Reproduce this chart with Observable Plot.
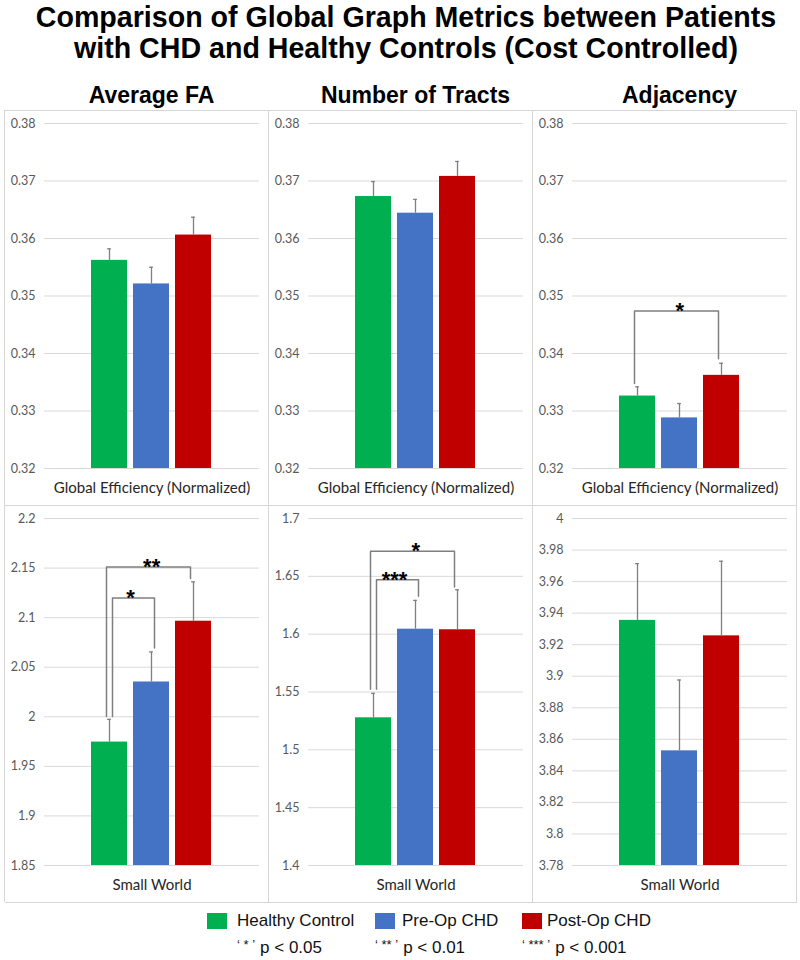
<!DOCTYPE html>
<html>
<head>
<meta charset="utf-8">
<script src="https://cdn.jsdelivr.net/npm/d3@7"></script>
<script src="https://cdn.jsdelivr.net/npm/@observablehq/plot@0.6"></script>
<style>
  body { margin: 0; background: #fff; }
  #page { position: relative; width: 800px; height: 960px; overflow: hidden; font-family: "Liberation Sans", Arial, sans-serif; color: #000; }
  .title { position: absolute; left: 10px; width: 792px; top: 2px; text-align: center; font-weight: bold; font-size: 28.6px; line-height: 31px; white-space: nowrap; }
  .hdr { position: absolute; top: 82px; width: 215px; text-align: center; font-weight: bold; font-size: 23px; line-height: 26px; white-space: nowrap; }
  .plot { position: absolute; }
  .line { position: absolute; background: #d6d6d6; }
  .sw { position: absolute; width: 20px; height: 16px; top: 913px; }
  .leg { position: absolute; top: 910px; font-size: 17px; line-height: 22px; color: #111; white-space: nowrap; }
  .pv { position: absolute; top: 937px; font-size: 17px; line-height: 22px; color: #111; white-space: nowrap; }
  .pv .sm { font-size: 13px; position: relative; top: -4px; word-spacing: 0px; margin-right: 5px; }
</style>
</head>
<body>
<div id="page"></div>
<script>
// ---------- data ----------
const groups = ["Healthy Control", "Pre-Op CHD", "Post-Op CHD"];
const groupColors = ["#00b050", "#4472c4", "#c00000"];
const metrics = ["Average FA", "Number of Tracts", "Adjacency"];
const measures = ["Global Efficiency (Normalized)", "Small World"];
const titleLines = ["Comparison of Global Graph Metrics between Patients", "with CHD and Healthy Controls (Cost Controlled)"];
const pLabels = [["‘ * ’", "p < 0.05"], ["‘ ** ’", "p < 0.01"], ["‘ *** ’", "p < 0.001"]];

// means and standard-error heights, order: Healthy Control, Pre-Op CHD, Post-Op CHD
const geFA = [0.3562, 0.3521, 0.3606];
const geFAErr = [0.0020, 0.0029, 0.0031];
const geTracts = [0.3673, 0.3644, 0.3708];
const geTractsErr = [0.0026, 0.0024, 0.0026];
const geAdj = [0.3326, 0.3288, 0.3362];
const geAdjErr = [0.0016, 0.0025, 0.0021];
const swFA = [1.9745, 2.0351, 2.0964];
const swFAErr = [0.0229, 0.0303, 0.0397];
const swTracts = [1.5277, 1.6043, 1.6038];
const swTractsErr = [0.0211, 0.0249, 0.0346];
const swAdj = [3.9354, 3.8527, 3.9256];
const swAdjErr = [0.0360, 0.0449, 0.0473];

// tick values
const geTicks = [0.32, 0.33, 0.34, 0.35, 0.36, 0.37, 0.38];
const swFATicks = [1.85, 1.9, 1.95, 2, 2.05, 2.1, 2.15, 2.2];
const swTractsTicks = [1.4, 1.45, 1.5, 1.55, 1.6, 1.65, 1.7];
const swAdjTicks = [3.78, 3.8, 3.82, 3.84, 3.86, 3.88, 3.9, 3.92, 3.94, 3.96, 3.98, 4];

// significance brackets
const geAdjBrackets = [
  {from: "Healthy Control", to: "Post-Op CHD", top: 0.3474, leftEnd: 0.3348, rightEnd: 0.3391, label: "*", nest: 0}
];
const swFABrackets = [
  {from: "Healthy Control", to: "Post-Op CHD", top: 2.1512, leftEnd: 2.0004, rightEnd: 2.1394, label: "**", nest: 0},
  {from: "Healthy Control", to: "Pre-Op CHD", top: 2.1199, leftEnd: 2.0004, rightEnd: 2.0693, label: "*", nest: 1}
];
const swTractsBrackets = [
  {from: "Healthy Control", to: "Post-Op CHD", top: 1.6717, leftEnd: 1.5524, rightEnd: 1.6407, label: "*", nest: 0},
  {from: "Healthy Control", to: "Pre-Op CHD", top: 1.6471, leftEnd: 1.5524, rightEnd: 1.6327, label: "***", nest: 1}
];

// ---------- layout ----------
const page = document.getElementById("page");
const PX = 5, PY = 110, PW = 264, PH = [395, 397];
const ML = 39, MR = 10, MT = 13, MB = 37;
const PAD_IN = 0.14, PAD_OUT = 1.12;

titleLines.forEach((t, i) => {
  const d = document.createElement("div");
  d.className = "title"; d.style.top = (2 + i * 31) + "px"; d.textContent = t;
  page.appendChild(d);
});
metrics.forEach((m, i) => {
  const d = document.createElement("div");
  d.className = "hdr"; d.style.left = (PX + i * PW + ML) + "px"; d.textContent = m;
  page.appendChild(d);
});

function panel(values, errs, ticks, label, brackets, height) {
  const width = PW;
  const data = groups.map((g, i) => ({group: g, value: values[i], hi: values[i] + errs[i], base: ticks[0]}));
  const step = (width - ML - MR) / (groups.length - PAD_IN + 2 * PAD_OUT);
  const bw = step * (1 - PAD_IN);
  const marks = [
    Plot.gridY(ticks, {stroke: "#d9d9d9", strokeOpacity: 1, strokeWidth: 1}),
    Plot.axisY(ticks, {tickSize: 0, tickPadding: 9, fill: "#595959", tickFormat: d => String(d), fontSize: 12.5}),
    Plot.barY(data, {x: "group", y1: "base", y2: "value", fill: "group"}),
    Plot.ruleX(data, {x: "group", y1: "value", y2: "hi", stroke: "#7f7f7f", strokeWidth: 1.3}),
    Plot.tickY(data, {x: "group", y: "hi", stroke: "#7f7f7f", strokeWidth: 1.3, insetLeft: (bw - 4) / 2, insetRight: (bw - 4) / 2}),
    Plot.text([label], {text: d => d, frameAnchor: "bottom", dy: 20, lineAnchor: "middle", fontSize: 15, fill: "#262626"})
  ];
  for (const b of brackets) {
    const pts = [
      {x: b.from, y: b.leftEnd}, {x: b.from, y: b.top},
      {x: b.to, y: b.top}, {x: b.to, y: b.rightEnd}
    ];
    marks.push(Plot.line(pts, {x: "x", y: "y", stroke: "#7f7f7f", strokeWidth: 1.5, dx: b.nest ? 3 : -3}));
    const span = groups.indexOf(b.to) - groups.indexOf(b.from);
    marks.push(Plot.text([b], {x: "from", y: "top", text: "label", dx: span * step / 2, lineAnchor: "middle",
      fontSize: 22, fontWeight: "bold", fill: "#000", fontFamily: "Liberation Sans, Arial, sans-serif"}));
  }
  return Plot.plot({
    width, height,
    marginLeft: ML, marginRight: MR, marginTop: MT, marginBottom: MB,
    style: {fontFamily: "Lato, sans-serif", fontSize: "12px", background: "transparent", overflow: "visible"},
    x: {domain: groups, paddingInner: PAD_IN, paddingOuter: PAD_OUT, axis: null},
    y: {domain: [ticks[0], ticks[ticks.length - 1]], axis: null},
    color: {domain: groups, range: groupColors},
    marks
  });
}

const specs = [
  [geFA, geFAErr, geTicks, measures[0], [], 0, 0],
  [geTracts, geTractsErr, geTicks, measures[0], [], 0, 1],
  [geAdj, geAdjErr, geTicks, measures[0], geAdjBrackets, 0, 2],
  [swFA, swFAErr, swFATicks, measures[1], swFABrackets, 1, 0],
  [swTracts, swTractsErr, swTractsTicks, measures[1], swTractsBrackets, 1, 1],
  [swAdj, swAdjErr, swAdjTicks, measures[1], [], 1, 2]
];
for (const [v, e, t, l, br, row, col] of specs) {
  const svg = panel(v, e, t, l, br, PH[row]);
  const wrap = document.createElement("div");
  wrap.className = "plot";
  wrap.style.left = (PX + col * PW) + "px";
  wrap.style.top = (PY + (row ? PH[0] : 0)) + "px";
  wrap.appendChild(svg);
  page.appendChild(wrap);
}

// panel borders
const totalH = PH[0] + PH[1];
function line(x, y, w, h) {
  const d = document.createElement("div");
  d.className = "line";
  Object.assign(d.style, {left: x + "px", top: y + "px", width: w + "px", height: h + "px"});
  page.appendChild(d);
}
for (let c = 0; c <= 3; c++) line(PX + c * PW - 1, PY, 1, totalH);
line(PX, PY, 3 * PW, 1);
line(PX, PY + PH[0], 3 * PW, 1);
line(PX, PY + totalH, 3 * PW, 1);

// legend
const swX = [207, 375, 522], txtX = [237, 402, 547], pvX = [237, 375, 522];
groups.forEach((g, i) => {
  const s = document.createElement("div");
  s.className = "sw"; s.style.left = swX[i] + "px"; s.style.background = groupColors[i];
  page.appendChild(s);
  const t = document.createElement("div");
  t.className = "leg"; t.style.left = txtX[i] + "px"; t.textContent = g;
  page.appendChild(t);
});
pLabels.forEach(([q, p], i) => {
  const d = document.createElement("div");
  d.className = "pv"; d.style.left = pvX[i] + "px";
  const sm = document.createElement("span"); sm.className = "sm"; sm.textContent = q;
  d.appendChild(sm);
  d.appendChild(document.createTextNode(p));
  page.appendChild(d);
});
</script>
</body>
</html>
